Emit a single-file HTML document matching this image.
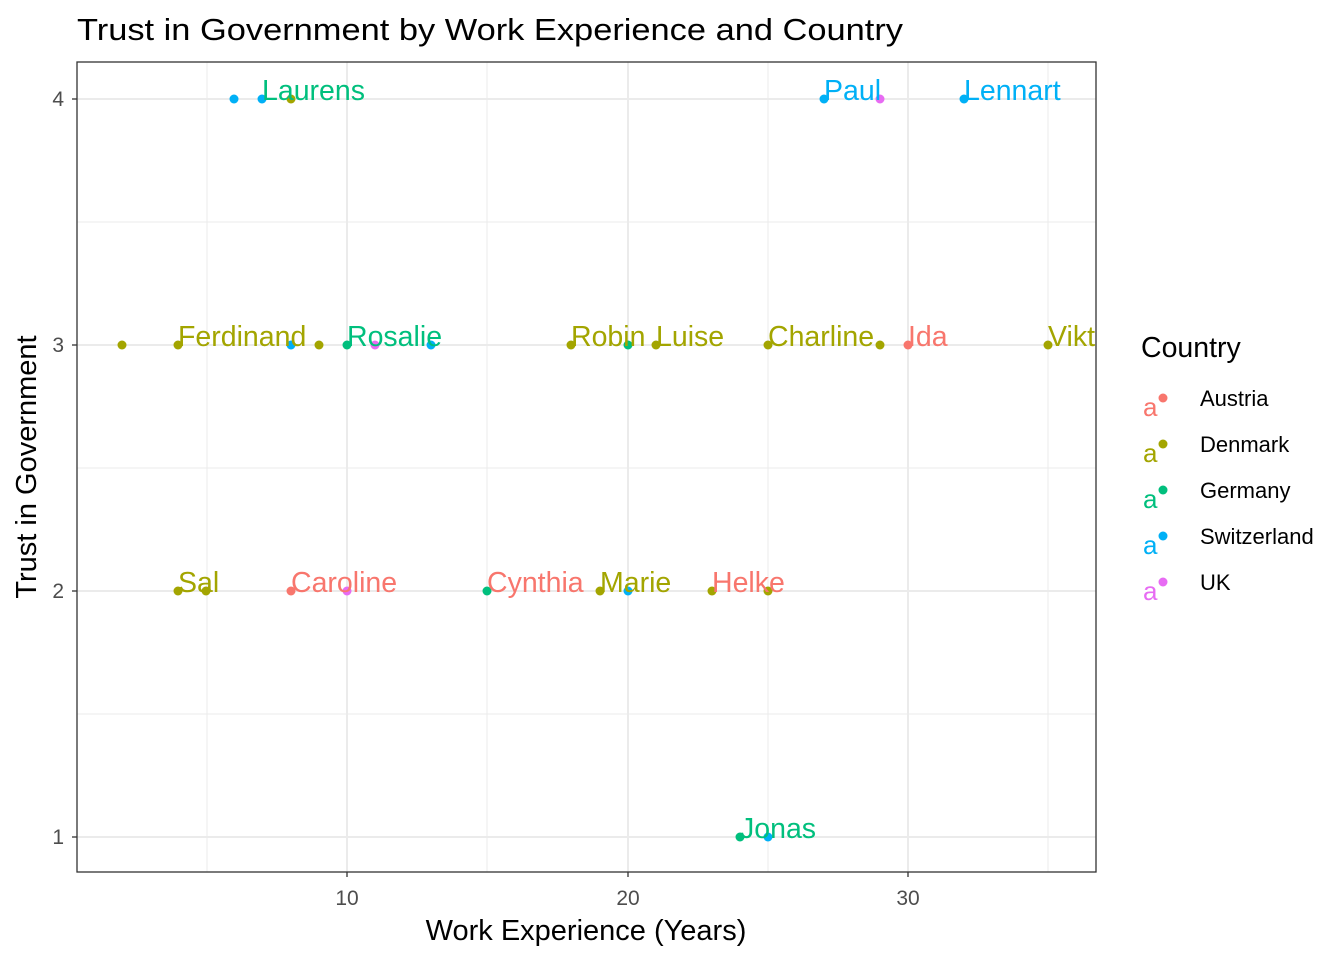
<!DOCTYPE html>
<html><head><meta charset="utf-8"><style>body{margin:0;background:#fff}svg{display:block}text{font-family:"Liberation Sans",Arial,sans-serif}</style></head>
<body>
<svg width="1344" height="960" xmlns="http://www.w3.org/2000/svg">
<rect width="1344" height="960" fill="#fff"/>
<text x="77" y="40" font-size="31" fill="#000" textLength="826" lengthAdjust="spacingAndGlyphs">Trust in Government by Work Experience and Country</text>
<defs><clipPath id="c"><rect x="77" y="62" width="1019" height="810"/></clipPath></defs>
<g stroke="#ebebeb" stroke-width="1">
<line x1="77" x2="1096" y1="222" y2="222"/><line x1="77" x2="1096" y1="468" y2="468"/><line x1="77" x2="1096" y1="714" y2="714"/>
<line x1="207" x2="207" y1="62" y2="872"/><line x1="487" x2="487" y1="62" y2="872"/><line x1="768" x2="768" y1="62" y2="872"/><line x1="1048" x2="1048" y1="62" y2="872"/>
</g>
<g stroke="#ebebeb" stroke-width="2">
<line x1="77" x2="1096" y1="99" y2="99"/><line x1="77" x2="1096" y1="345" y2="345"/><line x1="77" x2="1096" y1="591" y2="591"/><line x1="77" x2="1096" y1="837" y2="837"/>
<line x1="347" x2="347" y1="62" y2="872"/><line x1="628" x2="628" y1="62" y2="872"/><line x1="908" x2="908" y1="62" y2="872"/>
</g>
<g clip-path="url(#c)">
<g>
<circle cx="234" cy="99" r="4.5" fill="#00B0F6"/><circle cx="262" cy="99" r="4.5" fill="#00B0F6"/><circle cx="291" cy="99" r="4.5" fill="#A3A500"/>
<circle cx="824" cy="99" r="4.5" fill="#00B0F6"/><circle cx="880" cy="99" r="4.5" fill="#E76BF3"/><circle cx="964" cy="99" r="4.5" fill="#00B0F6"/>
<circle cx="122" cy="345" r="4.5" fill="#A3A500"/><circle cx="178" cy="345" r="4.5" fill="#A3A500"/><circle cx="291" cy="345" r="4.5" fill="#00B0F6"/><circle cx="319" cy="345" r="4.5" fill="#A3A500"/><circle cx="347" cy="345" r="4.5" fill="#00BF7D"/><circle cx="375" cy="345" r="4.5" fill="#E76BF3"/><circle cx="431" cy="345" r="4.5" fill="#00B0F6"/><circle cx="571" cy="345" r="4.5" fill="#A3A500"/><circle cx="628" cy="345" r="4.5" fill="#00BF7D"/><circle cx="656" cy="345" r="4.5" fill="#A3A500"/><circle cx="768" cy="345" r="4.5" fill="#A3A500"/><circle cx="880" cy="345" r="4.5" fill="#A3A500"/><circle cx="908" cy="345" r="4.5" fill="#F8766D"/><circle cx="1048" cy="345" r="4.5" fill="#A3A500"/>
<circle cx="178" cy="591" r="4.5" fill="#A3A500"/><circle cx="206" cy="591" r="4.5" fill="#A3A500"/><circle cx="291" cy="591" r="4.5" fill="#F8766D"/><circle cx="347" cy="591" r="4.5" fill="#E76BF3"/><circle cx="487" cy="591" r="4.5" fill="#00BF7D"/><circle cx="600" cy="591" r="4.5" fill="#A3A500"/><circle cx="628" cy="591" r="4.5" fill="#00B0F6"/><circle cx="712" cy="591" r="4.5" fill="#A3A500"/><circle cx="768" cy="591" r="4.5" fill="#A3A500"/>
<circle cx="740" cy="837" r="4.5" fill="#00BF7D"/><circle cx="768" cy="837" r="4.5" fill="#00B0F6"/>
</g>
<g font-size="28.5">
<text x="262" y="100" fill="#00BF7D">Laurens</text>
<text x="824" y="100" fill="#00B0F6">Paul</text>
<text x="964" y="100" fill="#00B0F6">Lennart</text>
<text x="178" y="346" fill="#A3A500">Ferdinand</text>
<text x="347" y="346" fill="#00BF7D">Rosalie</text>
<text x="571" y="346" fill="#A3A500">Robin</text>
<text x="656" y="346" fill="#A3A500">Luise</text>
<text x="768" y="346" fill="#A3A500">Charline</text>
<text x="908" y="346" fill="#F8766D">Ida</text>
<text x="1048" y="346" fill="#A3A500">Viktor</text>
<text x="178" y="592" fill="#A3A500">Sal</text>
<text x="291" y="592" fill="#F8766D">Caroline</text>
<text x="487" y="592" fill="#F8766D">Cynthia</text>
<text x="600" y="592" fill="#A3A500">Marie</text>
<text x="712" y="592" fill="#F8766D">Helke</text>
<text x="740" y="838" fill="#00BF7D">Jonas</text>
</g>
</g>
<rect x="77" y="62" width="1019" height="810" fill="none" stroke="#333" stroke-width="1.3"/>
<g stroke="#333" stroke-width="1.3">
<line x1="72" x2="77" y1="99" y2="99"/><line x1="72" x2="77" y1="345" y2="345"/><line x1="72" x2="77" y1="591" y2="591"/><line x1="72" x2="77" y1="837" y2="837"/>
<line x1="347" x2="347" y1="872" y2="877"/><line x1="628" x2="628" y1="872" y2="877"/><line x1="908" x2="908" y1="872" y2="877"/>
</g>
<g font-size="21" fill="#4d4d4d" text-anchor="end">
<text x="64" y="106">4</text><text x="64" y="352">3</text><text x="64" y="598">2</text><text x="64" y="844">1</text>
</g>
<g font-size="21" fill="#4d4d4d" text-anchor="middle">
<text x="347" y="905">10</text><text x="628" y="905">20</text><text x="908" y="905">30</text>
</g>
<text x="586" y="940" font-size="29" text-anchor="middle">Work Experience (Years)</text>
<text transform="translate(36,467) rotate(-90)" font-size="29" text-anchor="middle">Trust in Government</text>
<text x="1141" y="357" font-size="28.5">Country</text>
<g font-size="22">
<text x="1143" y="416" fill="#F8766D" font-size="26">a</text><circle cx="1163" cy="398" r="4.5" fill="#F8766D"/><text x="1200" y="406">Austria</text>
<text x="1143" y="462" fill="#A3A500" font-size="26">a</text><circle cx="1163" cy="444" r="4.5" fill="#A3A500"/><text x="1200" y="452">Denmark</text>
<text x="1143" y="508" fill="#00BF7D" font-size="26">a</text><circle cx="1163" cy="490" r="4.5" fill="#00BF7D"/><text x="1200" y="498">Germany</text>
<text x="1143" y="554" fill="#00B0F6" font-size="26">a</text><circle cx="1163" cy="536" r="4.5" fill="#00B0F6"/><text x="1200" y="544">Switzerland</text>
<text x="1143" y="600" fill="#E76BF3" font-size="26">a</text><circle cx="1163" cy="582" r="4.5" fill="#E76BF3"/><text x="1200" y="590">UK</text>
</g>
</svg>
</body></html>
